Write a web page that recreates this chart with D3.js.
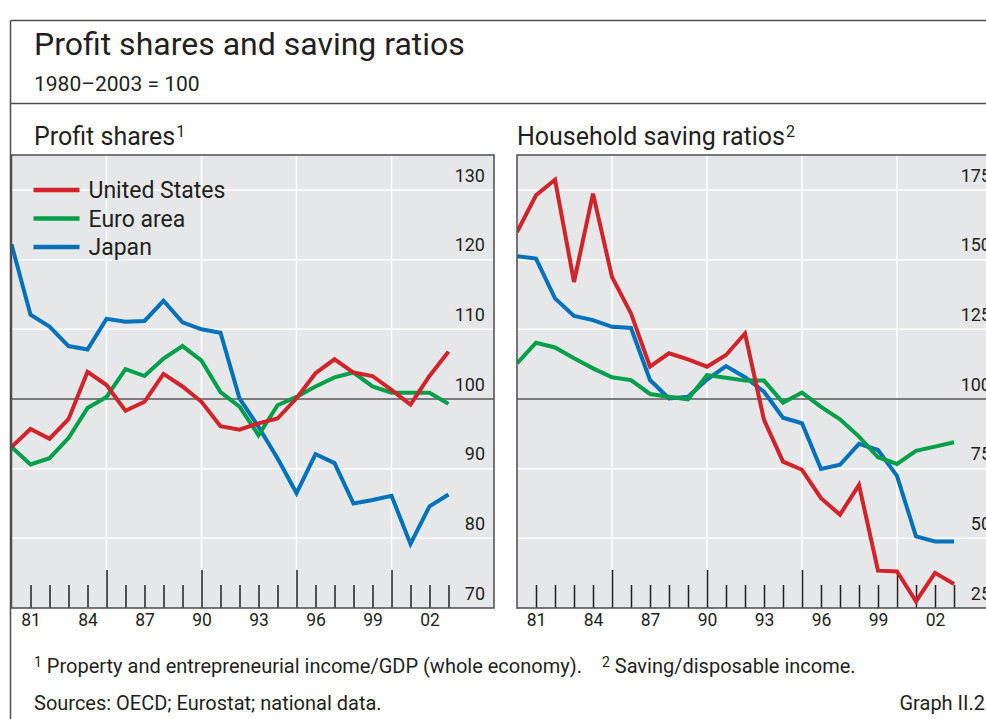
<!DOCTYPE html>
<html><head><meta charset="utf-8">
<script src="https://cdn.jsdelivr.net/npm/d3@7"></script>
<style>
body{margin:0;background:#fff;}
svg text{font-family:Roboto,"Liberation Sans",Arial,sans-serif;fill:#231f20;}
</style></head>
<body><svg id="c" width="986" height="719"></svg>
<script>
const years = d3.range(1980, 2004);
const seriesNames = ["United States", "Euro area", "Japan"];
const seriesColors = ["#d2232a", "#00a04b", "#0072bc"];

// Profit shares (1980–2003 = 100)
const psUS    = [93.1, 95.7, 94.3, 97.1, 103.9, 102.0, 98.3, 99.6, 103.6, 101.8, 99.6, 96.1, 95.6, 96.5, 97.2, 100.1, 103.7, 105.7, 103.8, 103.3, 101.3, 99.2, 103.3, 106.8];
const psEuro  = [93.1, 90.6, 91.5, 94.4, 98.7, 100.3, 104.3, 103.3, 105.8, 107.6, 105.5, 101.0, 98.9, 94.8, 99.1, 100.3, 101.8, 103.1, 103.8, 101.8, 100.9, 100.9, 100.9, 99.3];
const psJapan = [122.2, 112.1, 110.4, 107.6, 107.1, 111.5, 111.1, 111.2, 114.1, 111.0, 110.0, 109.5, 100.1, 96.0, 91.5, 86.5, 92.1, 90.8, 85.0, 85.5, 86.1, 79.2, 84.6, 86.3];

// Household saving ratios (1980–2003 = 100)
const svUS    = [159.9, 173.1, 178.7, 142.0, 173.7, 143.8, 130.7, 111.6, 116.4, 114.2, 111.6, 115.8, 123.5, 92.5, 77.5, 74.6, 64.4, 58.5, 69.2, 38.4, 38.1, 27.4, 37.6, 33.6];
const svEuro  = [112.8, 120.2, 118.5, 114.6, 111.0, 107.8, 106.8, 101.8, 100.8, 99.9, 108.6, 107.6, 106.6, 106.6, 98.7, 102.3, 97.2, 92.7, 86.5, 79.1, 76.7, 81.4, 82.9, 84.5];
const svJapan = [151.2, 150.4, 136.1, 129.8, 128.3, 125.9, 125.5, 106.8, 100.2, 100.8, 107.0, 111.8, 107.8, 102.6, 93.3, 91.3, 74.9, 76.4, 83.9, 81.7, 72.4, 50.7, 48.9, 48.9];

const xLabelYears = [1981, 1984, 1987, 1990, 1993, 1996, 1999, 2002];
const majorYears = [1985, 1990, 1995, 2000];
const psTicks = [70, 80, 90, 100, 110, 120, 130];
const svTicks = [25, 50, 75, 100, 125, 150, 175];

const svg = d3.select("#c");
const frame = "#4d4d4f";

// outer frame
svg.append("line").attr("x1",10.5).attr("x2",986).attr("y1",20.5).attr("y2",20.5).attr("stroke",frame).attr("stroke-width",1.5);
svg.append("line").attr("x1",10.5).attr("x2",10.5).attr("y1",20.5).attr("y2",719).attr("stroke",frame).attr("stroke-width",1.5);
svg.append("line").attr("x1",10.5).attr("x2",986).attr("y1",103.5).attr("y2",103.5).attr("stroke",frame).attr("stroke-width",1.5);

svg.append("text").attr("x",34).attr("y",55).attr("font-size",32).text("Profit shares and saving ratios");
svg.append("text").attr("x",34).attr("y",91).attr("font-size",21).text("1980–2003 = 100");

function panel(opts){
  const {x0, x1, tx, title, sup, domain, ticks, data, legend, id} = opts;
  const top = 155, bottom = 608;
  const x = d3.scaleLinear().domain([1980, 1980 + (x1 - x0) / 19]).range([x0, x1]);
  const y = d3.scaleLinear().domain(domain).range([bottom, top]);
  const g = svg.append("g");

  const t = svg.append("text").attr("x", tx).attr("y", 145).attr("font-size", 25);
  t.append("tspan").text(title);
  t.append("tspan").attr("font-size", 16).attr("dy", -8).attr("dx", 1).text(sup);

  g.append("rect").attr("x", x0).attr("y", top).attr("width", x1 - x0).attr("height", bottom - top).attr("fill", "#e6e7e8");

  // white grid
  g.append("g").selectAll("line").data(ticks.filter(v => v !== 100 && v !== domain[0])).join("line")
    .attr("x1", x0).attr("x2", x1).attr("y1", d => y(d)).attr("y2", d => y(d))
    .attr("stroke", "#fff").attr("stroke-width", 1.5);
  g.append("g").selectAll("line").data(majorYears).join("line")
    .attr("x1", d => x(d)).attr("x2", d => x(d)).attr("y1", top).attr("y2", bottom)
    .attr("stroke", "#fff").attr("stroke-width", 1.5);

  // 100 line
  g.append("line").attr("x1", x0).attr("x2", x1).attr("y1", y(100)).attr("y2", y(100)).attr("stroke", "#58595b").attr("stroke-width", 1.5);

  // tick marks via axes
  const minor = years.filter(yr => yr > 1980 && majorYears.indexOf(yr) < 0);
  const axMinor = g.append("g").attr("transform", `translate(0,${bottom})`)
    .call(d3.axisBottom(x).tickValues(minor).tickSize(-23).tickFormat(""));
  const axMajor = g.append("g").attr("transform", `translate(0,${bottom})`)
    .call(d3.axisBottom(x).tickValues(majorYears).tickSize(-38).tickFormat(""));
  [axMinor, axMajor].forEach(a => { a.select(".domain").remove(); a.selectAll("line").attr("stroke", "#231f20").attr("stroke-width", 1.5); });

  const axLab = g.append("g").attr("transform", `translate(0,${bottom})`)
    .call(d3.axisBottom(x).tickValues(xLabelYears).tickSize(0).tickPadding(6).tickFormat(d => String(d).slice(2)));
  axLab.select(".domain").remove();
  axLab.selectAll("text").attr("font-size", 17.5).attr("font-family", null).attr("fill", "#231f20");

  const axY = g.append("g").attr("transform", `translate(${x1 - 9},0)`)
    .call(d3.axisLeft(y).tickValues(ticks).tickSize(0).tickPadding(0));
  axY.select(".domain").remove();
  axY.selectAll("text").attr("font-size", 18).attr("font-family", null).attr("fill", "#231f20").attr("dy", "-0.5em");

  // lines
  const clipId = "clip" + id;
  svg.append("clipPath").attr("id", clipId).append("rect").attr("x", x0).attr("y", top).attr("width", x1 - x0).attr("height", bottom - top);
  const line = d3.line().x((d, i) => x(years[i])).y(d => y(d));
  const order = [2, 1, 0];
  order.forEach(k => {
    g.append("path").attr("d", line(data[k])).attr("fill", "none").attr("stroke", seriesColors[k])
      .attr("stroke-width", 4).attr("stroke-linejoin", "miter").attr("clip-path", `url(#${clipId})`);
  });

  // frame box
  g.append("rect").attr("x", x0).attr("y", top).attr("width", x1 - x0).attr("height", bottom - top)
    .attr("fill", "none").attr("stroke", frame).attr("stroke-width", 1.5);

  if (legend) {
    const lg = g.append("g");
    seriesNames.forEach((n, i) => {
      const yy = 190 + i * 28.5;
      lg.append("line").attr("x1", x0 + 22).attr("x2", x0 + 68).attr("y1", yy).attr("y2", yy).attr("stroke", seriesColors[i]).attr("stroke-width", 4.5);
      lg.append("text").attr("x", x0 + 77).attr("y", yy + 8).attr("font-size", 23).text(n);
    });
  }
}

panel({id: "L", x0: 11.5, x1: 494, tx: 34, title: "Profit shares", sup: "1", domain: [70, 70 + 453 / (209 / 30)], ticks: psTicks, data: [psUS, psEuro, psJapan], legend: true});
panel({id: "R", x0: 517, x1: 1000, tx: 517, title: "Household saving ratios", sup: "2", domain: [25, 25 + 453 / (209 / 75)], ticks: svTicks, data: [svUS, svEuro, svJapan], legend: false});

// footnotes
const fn = svg.append("text").attr("x", 34).attr("y", 673).attr("font-size", 20);
fn.append("tspan").attr("font-size", 14).attr("dy", -6).text("1");
fn.append("tspan").attr("dy", 6).text(" Property and entrepreneurial income/GDP (whole economy).");
fn.append("tspan").attr("dx", 20).attr("font-size", 14).attr("dy", -6).text("2");
fn.append("tspan").attr("dy", 6).text(" Saving/disposable income.");
svg.append("text").attr("x", 34).attr("y", 710).attr("font-size", 20).text("Sources: OECD; Eurostat; national data.");
svg.append("text").attr("x", 985).attr("y", 710).attr("font-size", 20).attr("text-anchor", "end").text("Graph II.2");
</script></body></html>
